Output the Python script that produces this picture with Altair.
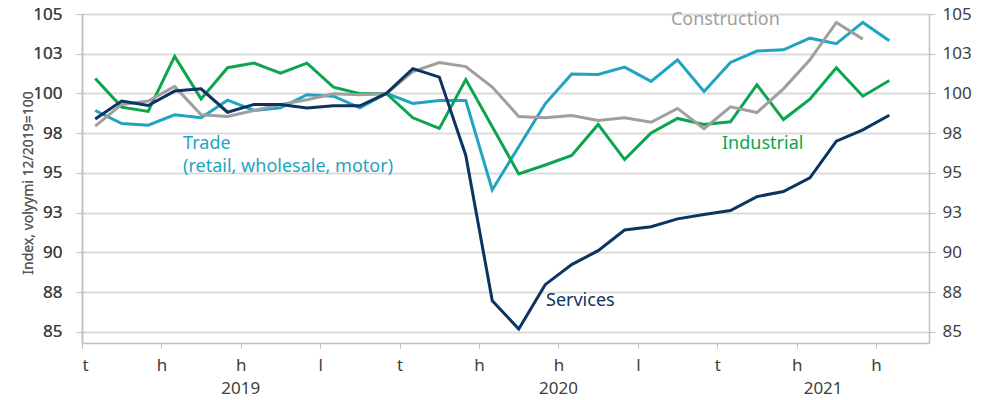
import altair as alt
import pandas as pd

# ---- data -------------------------------------------------------------
month_labels = [f"{y}-{m:02d}" for y in (2019, 2020) for m in range(1, 13)] + \
               [f"2021-{m:02d}" for m in range(1, 9)]

services = [98.40, 99.52, 99.24, 100.15, 100.29, 98.82, 99.31, 99.31, 99.08, 99.22,
            99.22, 100.0, 101.56, 101.03, 96.10, 86.96, 85.18, 87.97, 89.23, 90.11,
            91.41, 91.62, 92.11, 92.38, 92.63, 93.51, 93.83, 94.69, 97.00, 97.71, 98.63]
trade = [98.93, 98.11, 98.00, 98.66, 98.47, 99.58, 98.93, 99.10, 99.92, 99.83,
         99.10, 100.0, 99.37, 99.56, 99.56, 93.93, 96.65, 99.35, 101.22, 101.20,
         101.66, 100.76, 102.12, 100.13, 101.95, 102.67, 102.75, 103.48, 103.13, 104.47, 103.32]
industrial = [100.94, 99.14, 98.87, 102.33, 99.66, 101.62, 101.91, 101.28, 101.91, 100.40,
              99.98, 100.0, 98.47, 97.80, 100.87, 97.90, 94.94, 95.50, 96.10, 98.05,
              95.84, 97.52, 98.43, 98.05, 98.22, 100.55, 98.36, 99.64, 101.62, 99.83, 100.82]
construction = [97.94, 99.31, 99.52, 100.44, 98.66, 98.55, 98.93, 99.31, 99.60, 99.98,
                99.92, 100.0, 101.37, 101.94, 101.69, 100.40, 98.55, 98.47, 98.62, 98.30,
                98.47, 98.19, 99.06, 97.78, 99.16, 98.80, 100.29, 102.12, 104.47, 103.42]

series_names = ["Trade", "Industrial", "Construction", "Services"]
series_colors = ["#1fa4c2", "#0ca54f", "#a09e9e", "#0b3460"]

tick_letters = ["t", "h", "h", "l"]
y_ticks = [85, 87.5, 90, 92.5, 95, 97.5, 100, 102.5, 105]

label_text = ["Trade", "(retail, wholesale, motor)", "Industrial", "Construction", "Services"]
label_series = ["Trade", "Trade", "Industrial", "Construction", "Services"]
label_x = [3.82, 3.82, 24.18, 22.25, 17.53]
label_y = [96.85, 95.40, 96.80, 104.60, 86.96]

# ---- tables -----------------------------------------------------------
rows = []
for name, vals in zip(series_names, [trade, industrial, construction, services]):
    for i, v in enumerate(vals):
        rows.append({"series": name, "month": month_labels[i], "x": i + 0.5, "value": v})
df = pd.DataFrame(rows)

years = sorted({m[:4] for m in month_labels})
year_rows = []
for yr in years:
    idx = [i for i, m in enumerate(month_labels) if m.startswith(yr)]
    year_rows.append({"year": yr, "x": (min(idx) + max(idx) + 1) / 2})
year_df = pd.DataFrame(year_rows)

lab_df = pd.DataFrame({"text": label_text, "series": label_series,
                       "x": label_x, "value": label_y})

n_months = len(month_labels)
tick_vals = list(range(0, n_months, 3))
letters_js = "[" + ",".join(f"'{t}'" for t in tick_letters) + "]"

W, H = 847, 329
FONT = "Noto Sans"

xscale = alt.Scale(domain=[0, n_months], nice=False, zero=False)
yscale = alt.Scale(domain=[84.3, 105], nice=False, zero=False)
color = alt.Color("series:N", scale=alt.Scale(domain=series_names, range=series_colors), legend=None)

x_axis = alt.Axis(values=tick_vals, title=None, grid=False,
                  labelExpr=f"{letters_js}[floor(datum.value / 3) % 4]",
                  domainColor="#bfbfbf", domainWidth=1.5, tickColor="#bfbfbf", tickSize=5,
                  labelPadding=9, labelFontSize=17, labelColor="#404040", labelFont=FONT)

left_axis = alt.Axis(values=y_ticks, format=".0f", title="Index, volyymi 12/2019=100",
                     titleFontSize=14, titleFontWeight="normal", titleColor="#595959",
                     titleFont=FONT, titleX=-54, titleY=H / 2 + 4, titleAngle=-90,
                     titleAlign="center", titleBaseline="middle",
                     grid=True, gridColor="#d9d9d9", gridWidth=1.5,
                     domainColor="#bfbfbf", domainWidth=1.5, tickColor="#bfbfbf", tickSize=6,
                     labelPadding=14, labelFontSize=17, labelColor="#404040", labelFont=FONT)
right_axis = alt.Axis(values=y_ticks, format=".0f", title=None, orient="right", grid=False,
                      domainColor="#bfbfbf", domainWidth=1.5, tickColor="#bfbfbf", tickSize=6,
                      labelPadding=7, labelFontSize=17, labelColor="#404040", labelFont=FONT)

X = alt.X("x:Q", scale=xscale, axis=x_axis)

lines = alt.Chart(df).mark_line(strokeWidth=3).encode(
    x=X,
    y=alt.Y("value:Q", scale=yscale, axis=left_axis),
    color=color,
    detail="series:N",
)

right = alt.Chart(df).mark_line(strokeOpacity=0).encode(
    x=X,
    y=alt.Y("value:Q", scale=yscale, axis=right_axis),
    detail="series:N",
)

labels = alt.Chart(lab_df).mark_text(align="left", baseline="middle", fontSize=18, font=FONT).encode(
    x=X,
    y=alt.Y("value:Q", scale=yscale, axis=left_axis),
    text="text:N",
    color=color,
)

year_text = alt.Chart(year_df).mark_text(align="center", baseline="middle", fontSize=17,
                                         font=FONT, color="#404040").encode(
    x=X,
    y=alt.value(H + 46),
    text="year:N",
)

chart = alt.layer(lines, right, labels, year_text).resolve_axis(y="independent").properties(
    width=W, height=H,
    autosize=alt.AutoSizeParams(type="none"),
    padding={"left": 74, "top": 6, "right": 55, "bottom": 57},
).configure_view(stroke=None)

chart.save("out.html", embed_options={"renderer": "svg", "actions": False})
